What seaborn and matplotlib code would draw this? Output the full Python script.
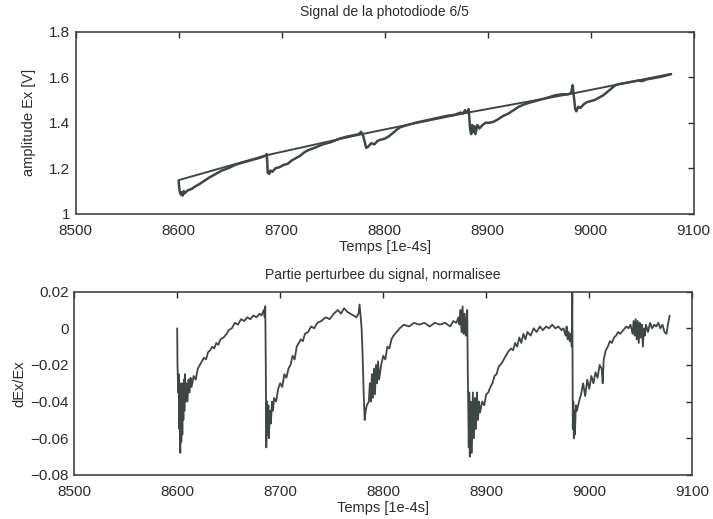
import matplotlib
matplotlib.use("Agg")
import matplotlib.pyplot as plt
import seaborn as sns
import pandas as pd

# ---------------- data ----------------
top_t = [8600, 8600.5, 8601, 8602, 8603, 8604, 8605, 8606, 8608, 8610, 8613, 8616, 8620, 8625, 8630,
         8636, 8642, 8648, 8655, 8662, 8670, 8678, 8684, 8685.5, 8686, 8686.5, 8688, 8689, 8691, 8694,
         8698, 8702, 8706, 8710, 8714, 8718, 8722, 8726, 8732, 8740, 8748, 8756, 8764, 8770, 8775,
         8777, 8779, 8781, 8782, 8784, 8787, 8790, 8793, 8796, 8800, 8804, 8808, 8812, 8815, 8822,
         8830, 8840, 8850, 8860, 8868, 8874, 8876, 8878, 8880, 8881.5, 8882, 8883, 8884, 8885, 8886,
         8887, 8888, 8890, 8892, 8895, 8898, 8902, 8906, 8910, 8915, 8920, 8925, 8930, 8935, 8942,
         8950, 8958, 8965, 8972, 8978, 8981, 8982.5, 8983.5, 8985, 8986, 8988, 8990, 8993, 8996, 9000,
         9004, 9008, 9012, 9016, 9020, 9024, 9028, 9034, 9040, 9046, 9050, 9054, 9060, 9066, 9072, 9078]
top_v = [1.145, 1.12, 1.10, 1.085, 1.095, 1.08, 1.10, 1.09, 1.10, 1.105, 1.11, 1.12, 1.13, 1.145, 1.16,
         1.175, 1.19, 1.20, 1.215, 1.225, 1.235, 1.245, 1.255, 1.262, 1.23, 1.18, 1.175, 1.19, 1.185, 1.20,
         1.205, 1.215, 1.22, 1.235, 1.245, 1.255, 1.27, 1.28, 1.29, 1.305, 1.315, 1.33, 1.34, 1.345, 1.35,
         1.36, 1.345, 1.31, 1.29, 1.295, 1.31, 1.305, 1.32, 1.325, 1.33, 1.34, 1.355, 1.37, 1.38, 1.39,
         1.40, 1.41, 1.42, 1.43, 1.435, 1.445, 1.44, 1.455, 1.445, 1.46, 1.43, 1.37, 1.35, 1.39, 1.36,
         1.385, 1.35, 1.39, 1.375, 1.39, 1.40, 1.40, 1.405, 1.415, 1.43, 1.44, 1.455, 1.47, 1.48, 1.49,
         1.50, 1.51, 1.52, 1.525, 1.525, 1.53, 1.565, 1.52, 1.46, 1.45, 1.47, 1.465, 1.48, 1.49, 1.495,
         1.50, 1.51, 1.52, 1.535, 1.55, 1.565, 1.57, 1.575, 1.58, 1.585, 1.583, 1.59, 1.595, 1.60, 1.606, 1.613]

base_t = [8600, 8686, 8780, 8880, 8982, 9078]
base_v = [1.148, 1.258, 1.352, 1.444, 1.528, 1.615]

bot_t = [8600, 8600.3, 8601, 8601.5, 8602, 8602.5, 8603, 8603.5, 8604, 8604.5, 8605, 8605.5, 8606, 8606.5,
         8607, 8607.5, 8608, 8609, 8610, 8611, 8612, 8613, 8614, 8616, 8618, 8620, 8622, 8624, 8626, 8628,
         8630, 8632, 8634, 8636, 8638, 8640, 8642, 8645, 8648, 8650, 8653, 8656, 8659, 8662, 8665, 8668,
         8671, 8674, 8677, 8680, 8682, 8684, 8685, 8685.5, 8686, 8686.5, 8687, 8688, 8688.5, 8689, 8690,
         8691, 8692, 8693, 8694, 8696, 8698, 8700, 8702, 8704, 8706, 8708, 8710, 8712, 8714, 8716, 8718,
         8720, 8722, 8724, 8727, 8730, 8733, 8736, 8740, 8744, 8748, 8752, 8756, 8759, 8762, 8765, 8768,
         8771, 8774, 8776, 8777, 8778, 8779, 8780, 8781, 8782, 8783, 8784, 8786, 8787, 8788, 8789, 8790,
         8791, 8792, 8793, 8794, 8795, 8796, 8798, 8800, 8802, 8804, 8806, 8808, 8810, 8813, 8816, 8820,
         8825, 8830, 8835, 8840, 8845, 8850, 8855, 8860, 8865, 8868, 8871, 8873, 8874, 8875, 8876, 8877,
         8878, 8879, 8880, 8881, 8881.5, 8882, 8883, 8883.5, 8884, 8885, 8886, 8887, 8888, 8889, 8890,
         8891, 8892, 8893, 8894, 8896, 8898, 8900, 8902, 8904, 8906, 8908, 8910, 8912, 8915, 8918, 8921,
         8924, 8926, 8928, 8930, 8932, 8934, 8936, 8938, 8940, 8943, 8946, 8949, 8952, 8955, 8958, 8961,
         8964, 8967, 8970, 8973, 8975, 8977, 8978, 8979, 8980, 8981, 8982, 8983, 8983.5, 8984, 8984.5,
         8985, 8985.5, 8986, 8987, 8988, 8990, 8992, 8994, 8996, 8998, 9000, 9002, 9004, 9006, 9008, 9010,
         9012, 9013, 9014, 9016, 9018, 9020, 9022, 9024, 9026, 9028, 9030, 9033, 9036, 9038, 9040, 9042,
         9043, 9044, 9045, 9046, 9047, 9048, 9049, 9050, 9051, 9052, 9053, 9054, 9055, 9057, 9059, 9061,
         9063, 9065, 9067, 9069, 9071, 9073, 9075, 9076, 9077, 9078]
bot_v = [0.0, -0.02, -0.035, -0.025, -0.055, -0.03, -0.068, -0.035, -0.062, -0.03, -0.058, -0.035, -0.05, -0.028,
         -0.045, -0.025, -0.04, -0.03, -0.04, -0.028, -0.035, -0.027, -0.032, -0.026, -0.028, -0.022, -0.02, -0.018, -0.016, -0.017,
         -0.013, -0.012, -0.01, -0.011, -0.008, -0.009, -0.006, -0.005, -0.003, -0.001, 0.0, 0.003, 0.002, 0.005, 0.004, 0.006,
         0.005, 0.007, 0.006, 0.008, 0.007, 0.01, 0.006, 0.012, -0.02, -0.065, -0.04, -0.058, -0.042, -0.06, -0.045,
         -0.052, -0.04, -0.045, -0.038, -0.04, -0.033, -0.03, -0.032, -0.025, -0.027, -0.022, -0.02, -0.015, -0.017, -0.01, -0.008,
         -0.006, -0.007, -0.003, -0.002, 0.001, 0.0, 0.003, 0.004, 0.006, 0.005, 0.008, 0.01, 0.008, 0.011, 0.009, 0.008,
         0.007, 0.006, 0.008, 0.013, 0.007, 0.0, -0.015, -0.035, -0.05, -0.045, -0.042, -0.04, -0.03, -0.04, -0.025, -0.038,
         -0.022, -0.036, -0.02, -0.03, -0.018, -0.028, -0.02, -0.015, -0.017, -0.01, -0.011, -0.006, -0.004, -0.002, 0.0, 0.002,
         0.001, 0.003, 0.002, 0.003, 0.001, 0.003, 0.002, 0.003, 0.001, 0.004, 0.003, 0.006, 0.002, 0.01, -0.002, 0.012,
         -0.003, 0.008, -0.004, 0.006, 0.01, -0.02, -0.065, -0.035, -0.07, -0.04, -0.068, -0.035, -0.06, -0.038, -0.055,
         -0.035, -0.05, -0.04, -0.046, -0.04, -0.042, -0.036, -0.035, -0.032, -0.03, -0.026, -0.025, -0.021, -0.019, -0.016, -0.013,
         -0.011, -0.012, -0.008, -0.01, -0.005, -0.008, -0.003, -0.006, -0.002, -0.004, 0.0, -0.002, 0.001, -0.001, 0.001, 0.0,
         0.002, 0.0, 0.001, -0.001, 0.0, -0.004, 0.001, -0.006, -0.002, -0.007, -0.003, -0.01, 0.02, -0.055, -0.04,
         -0.06, -0.045, -0.058, -0.042, -0.045, -0.04, -0.036, -0.03, -0.037, -0.028, -0.033, -0.026, -0.03, -0.024, -0.027, -0.02,
         -0.022, -0.03, -0.017, -0.012, -0.01, -0.007, -0.008, -0.005, -0.004, -0.002, -0.003, -0.001, 0.001, 0.0, 0.002, -0.003,
         0.004, -0.004, 0.005, -0.006, 0.004, -0.008, 0.003, -0.005, 0.002, -0.01, 0.0, -0.004, 0.002, -0.002, 0.003, 0.0,
         0.002, 0.001, 0.003, 0.0, 0.002, -0.002, -0.003, 0.001, 0.004, 0.007]

x_ticks = [8500, 8600, 8700, 8800, 8900, 9000, 9100]
top_yticks = [1.0, 1.2, 1.4, 1.6, 1.8]
top_ylabels = ["1", "1.2", "1.4", "1.6", "1.8"]
bot_yticks = [-0.08, -0.06, -0.04, -0.02, 0.0, 0.02]
bot_ylabels = ["\u22120.08", "\u22120.06", "\u22120.04", "\u22120.02", "0", "0.02"]

# ---------------- style ----------------
sns.set_theme(style="white")
plt.rcParams["font.family"] = ["Liberation Sans", "DejaVu Sans"]
ink = "#3f4743"
txt = "#2b2b2b"

fig = plt.figure(figsize=(7.13, 5.19), dpi=100)
ax1 = fig.add_axes([0.106, 0.588, 0.867, 0.351])
ax2 = fig.add_axes([0.104, 0.085, 0.867, 0.353])

df_top = pd.DataFrame({"t": top_t, "v": top_v})
df_base = pd.DataFrame({"t": base_t, "v": base_v})
df_bot = pd.DataFrame({"t": bot_t, "v": bot_v})

sns.lineplot(data=df_base, x="t", y="v", ax=ax1, color=ink, lw=1.4, estimator=None, sort=False)
sns.lineplot(data=df_top, x="t", y="v", ax=ax1, color=ink, lw=1.8, estimator=None, sort=False)
sns.lineplot(data=df_bot, x="t", y="v", ax=ax2, color=ink, lw=1.3, estimator=None, sort=False)

for ax, yt, yl in [(ax1, top_yticks, top_ylabels), (ax2, bot_yticks, bot_ylabels)]:
    ax.set_xlim(8500, 9100)
    ax.set_xticks(x_ticks)
    ax.set_xticklabels([str(v) for v in x_ticks])
    ax.set_yticks(yt)
    ax.set_yticklabels(yl)
    ax.set_ylim(yt[0], yt[-1])
    ax.tick_params(direction="in", length=4, width=1, top=True, right=True,
                   labelsize=11, colors=txt)
    ax.tick_params(axis="x", pad=7)
    ax.tick_params(axis="y", pad=4)
    for s in ax.spines.values():
        s.set_color("#444444")
        s.set_linewidth(1.2)

ax1.set_title("Signal de la photodiode 6/5", fontsize=10, color=txt, pad=11)
ax1.set_xlabel("Temps [1e-4s]", fontsize=10.5, color=txt, labelpad=2)
ax1.set_ylabel("amplitude Ex [V]", fontsize=10.5, color=txt, labelpad=9)

ax2.set_title("Partie perturbee du signal, normalisee", fontsize=10, color=txt, pad=9)
ax2.set_xlabel("Temps [1e-4s]", fontsize=10.5, color=txt, labelpad=2)
ax2.set_ylabel("dEx/Ex", fontsize=10.5, color=txt, labelpad=3)

fig.savefig("out.png", dpi=100)
